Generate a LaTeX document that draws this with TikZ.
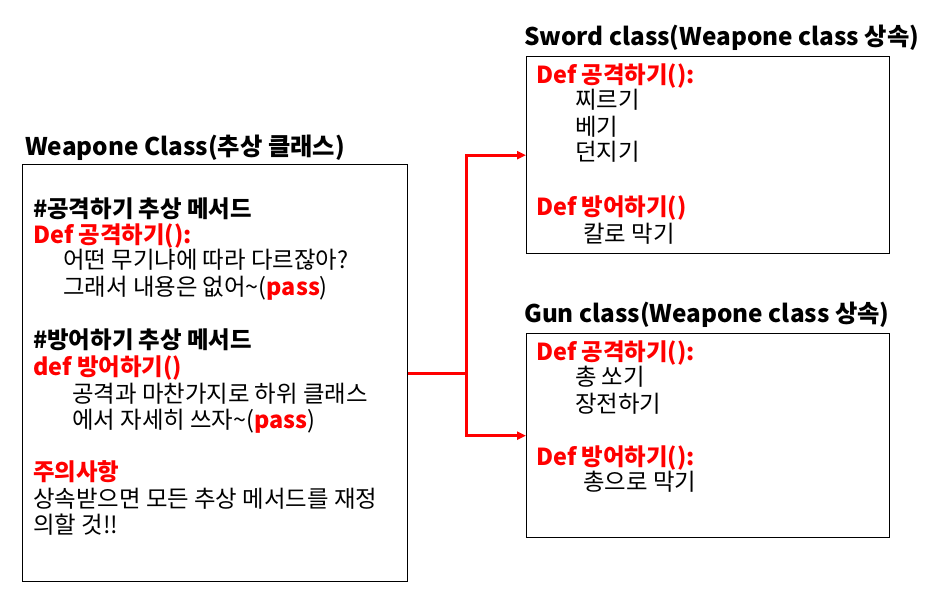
\documentclass[tikz,border=0pt]{standalone}
\usepackage{fontspec}
\setmainfont{Noto Sans CJK KR}
\usetikzlibrary{arrows.meta}
\definecolor{pred}{RGB}{255,0,0}
\tikzset{
  txt/.style={anchor=base west, inner sep=0pt, font=\fontsize{23.4}{28}\selectfont},
  bld/.style={txt, font=\fontsize{23.4}{28}\selectfont\bfseries},
  rbld/.style={bld, text=pred},
  ttl/.style={anchor=base west, inner sep=0pt, font=\fontsize{24.3}{29}\selectfont\bfseries},
  box/.style={draw=black, line width=1.3pt, anchor=north west, inner sep=0pt},
  conn/.style={draw=pred, line width=3pt},
  arr/.style={conn, -{Triangle[length=9pt,width=8pt]}},
}
\newcommand{\rp}{{\bfseries\color{pred}pass}}
\begin{document}
\begin{tikzpicture}[x=1pt,y=-1pt]
\useasboundingbox[fill=white] (0,0) rectangle (947,614);
% boxes
\node[box, minimum width=385pt, minimum height=417pt] (wbox) at (22,164) {};
\node[box, minimum width=363pt, minimum height=197pt] (sbox) at (526,56) {};
\node[box, minimum width=363pt, minimum height=204pt] (gbox) at (526,333) {};
% titles
\node[ttl] (wt) at (25,155) {Weapone Class(추상 클래스)};
\node[ttl] (st) at (524,45) {Sword class(Weapone class 상속)};
\node[ttl] (gt) at (524,322) {Gun class(Weapone class 상속)};
% left box content
\node[bld] (l1) at (33,217) {\#공격하기 추상 메서드};
\node[rbld] (l2) at (33,243) {Def 공격하기():};
\node[txt] (l3) at (63,268) {어떤 무기냐에 따라 다르잖아?};
\node[txt] (l4) at (63,295) {그래서 내용은 없어\textasciitilde(\rp)};
\node[bld] (l5) at (33,348) {\#방어하기 추상 메서드};
\node[rbld] (l6) at (33,375) {def 방어하기()};
\node[txt] (l7) at (72,402) {공격과 마찬가지로 하위 클래스};
\node[txt] (l8) at (72,428) {에서 자세히 쓰자\textasciitilde(\rp)};
\node[rbld] (l9) at (33,480) {주의사항};
\node[txt] (l10) at (33,507) {상속받으면 모든 추상 메서드를 재정};
\node[txt] (l11) at (33,533) {의할 것!!};
% sword box content
\node[rbld] (s1) at (536,83) {Def 공격하기():};
\node[txt] (s2) at (575,108) {찌르기};
\node[txt] (s3) at (575,135) {베기};
\node[txt] (s4) at (575,160) {던지기};
\node[rbld] (s5) at (536,215) {Def 방어하기()};
\node[txt] (s6) at (583,242) {칼로 막기};
% gun box content
\node[rbld] (g1) at (536,360) {Def 공격하기():};
\node[txt] (g2) at (575,385) {총 쏘기};
\node[txt] (g3) at (575,412) {장전하기};
\node[rbld] (g4) at (536,465) {Def 방어하기():};
\node[txt] (g5) at (583,490) {총으로 막기};
% connectors
\coordinate (j) at (466,373);
\draw[conn] (wbox.east) -- (wbox.east -| j);
\draw[arr] (wbox.east -| j) |- (sbox.west);
\draw[arr] (wbox.east -| j) |- (gbox.west);
\end{tikzpicture}
\end{document}
